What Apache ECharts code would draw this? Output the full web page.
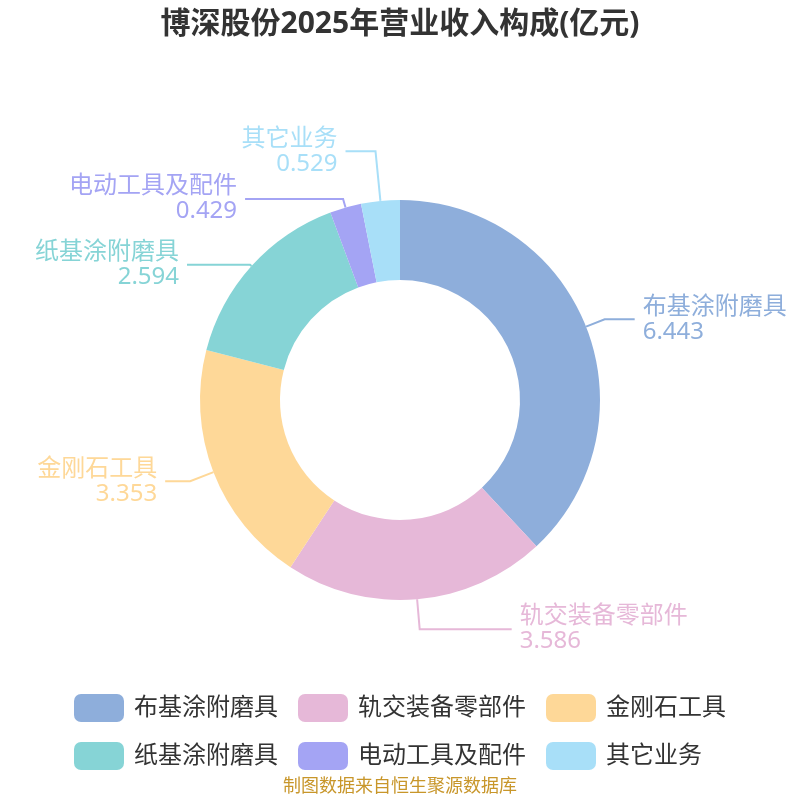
<!DOCTYPE html>
<html lang="zh">
<head>
  <meta charset="UTF-8" />
  <title>博深股份2025年营业收入构成</title>
  <script src="https://cdn.jsdelivr.net/npm/echarts@6/dist/echarts.min.js"></script>
  <style>
    body { margin: 0; background: #fff; }
    #chart { width: 800px; height: 800px; }
  </style>
</head>
<body>
  <div id="chart"></div>
  <script>
    const names = ['布基涂附磨具', '轨交装备零部件', '金刚石工具', '纸基涂附磨具', '电动工具及配件', '其它业务'];
    const values = [6.443, 3.586, 3.353, 2.594, 0.429, 0.529];
    const colors = ['#8eaedb', '#e6b8d8', '#fed898', '#86d4d6', '#a4a4f4', '#a8dff8'];
    // label guide lengths per slice, so the labels sit where the original puts them
    const lineLen = [20, 30, 25, 2, 9, 50];
    const lineLen2 = [30, 92, 25, 63, 98, 30];

    const FONT = '"Noto Sans", "Noto Sans CJK SC", sans-serif';
    const chart = echarts.init(document.getElementById('chart'));

    const option = {
      backgroundColor: '#fff',
      textStyle: { fontFamily: FONT },
      title: {
        text: '博深股份2025年营业收入构成(亿元)',
        left: 'center',
        top: 4,
        textStyle: { fontSize: 30, fontWeight: 'bold', color: '#333', fontFamily: FONT }
      },
      graphic: [{
        type: 'text',
        left: 'center',
        top: 778,
        style: { text: '制图数据来自恒生聚源数据库', fill: '#c8962a', font: '18px ' + FONT }
      }],
      legend: {
        data: names,
        bottom: 25,
        left: 'center',
        width: 720,
        itemWidth: 50,
        itemHeight: 28,
        itemGap: 20,
        textStyle: { fontSize: 24, color: '#333', padding: [0, 0, 0, 5] }
      },
      series: [{
        type: 'pie',
        center: [400, 400],
        radius: [120, 200],
        startAngle: 90,
        avoidLabelOverlap: false,
        data: names.map((n, i) => ({
          name: n,
          value: values[i],
          itemStyle: { color: colors[i] },
          label: { color: colors[i] },
          labelLine: { length: lineLen[i], length2: lineLen2[i] }
        })),
        label: {
          formatter: '{b}\n{c}',
          fontSize: 24,
          lineHeight: 25,
          overflow: 'none',
          distanceToLabelLine: 8
        },
        labelLine: {
          lineStyle: { width: 2 }
        }
      }]
    };

    chart.setOption(option);
    window.addEventListener('resize', () => chart.resize());
  </script>
</body>
</html>
